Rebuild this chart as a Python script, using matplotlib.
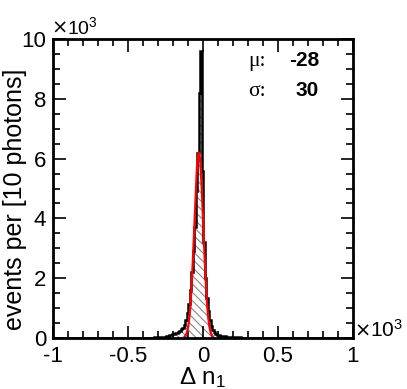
import numpy as np
import matplotlib
matplotlib.use("Agg")
import matplotlib.pyplot as plt
from matplotlib.ticker import MultipleLocator

# ---- data (x in units of 10^3 photons, y in units of 10^3 events) ----
bin_width = 0.01
x_start = -0.45   # left edge of first listed bin
counts = [
    # -0.45 .. -0.36
    0.004, 0.005, 0.005, 0.006, 0.007, 0.008, 0.009, 0.010, 0.011, 0.012,
    # -0.35 .. -0.26
    0.014, 0.016, 0.018, 0.020, 0.023, 0.026, 0.030, 0.034, 0.040, 0.046,
    # -0.25 .. -0.16
    0.070, 0.080, 0.090, 0.105, 0.120, 0.135, 0.155, 0.180, 0.210, 0.250,
    # -0.15 .. -0.06
    0.29, 0.35, 0.45, 0.60, 0.85, 1.15, 1.60, 2.20, 2.90, 3.70,
    # -0.05 .. 0.04
    4.90, 6.20, 8.20, 9.60, 5.60, 3.20, 2.00, 1.35, 0.90, 0.60,
    # 0.05 .. 0.14
    0.40, 0.27, 0.19, 0.14, 0.11, 0.090, 0.078, 0.068, 0.060, 0.053,
    # 0.15 .. 0.24
    0.047, 0.042, 0.037, 0.033, 0.030, 0.027, 0.024, 0.022, 0.020, 0.018,
    # 0.25 .. 0.34
    0.016, 0.014, 0.013, 0.012, 0.011, 0.010, 0.009, 0.008, 0.007, 0.007,
    # 0.35 .. 0.39
    0.006, 0.006, 0.005, 0.005, 0.004,
]
fit_mu = -0.028
fit_sigma = 0.030
fit_amp = 6.2
fit_range = (-0.122, 0.066)
mu_text = "-28"
sigma_text = "30"
x_ticks = [-1, -0.5, 0, 0.5, 1]
x_tick_labels = ["-1", "-0.5", "0", "0.5", "1"]
y_ticks = [0, 2, 4, 6, 8, 10]
y_tick_labels = ["0", "2", "4", "6", "8", "10"]

# ---- figure ----
plt.rcParams['font.family'] = ['Liberation Sans', 'DejaVu Sans']
plt.rcParams['mathtext.fontset'] = 'custom'
plt.rcParams['mathtext.rm'] = 'Liberation Sans'
plt.rcParams['mathtext.it'] = 'Liberation Sans:italic'
plt.rcParams['mathtext.bf'] = 'Liberation Sans:bold'
fig = plt.figure(figsize=(4.07, 3.89), dpi=100)
ax = fig.add_axes([53/407, 1-338/389, 300/407, 299/389])

edges = x_start + bin_width * np.arange(len(counts) + 1)
edges_full = np.concatenate(([-1.0], edges, [1.0]))
counts_full = np.concatenate(([0.0], counts, [0.0]))

plt.rcParams['hatch.linewidth'] = 0.8
ax.stairs(counts_full, edges_full, fill=True, facecolor='none',
          edgecolor='#888888', hatch='\\\\\\\\', linewidth=0)
ax.stairs(counts_full, edges_full, color='black', linewidth=1.8)

xf = np.linspace(fit_range[0], fit_range[1], 300)
yf = fit_amp * np.exp(-0.5 * ((xf - fit_mu) / fit_sigma) ** 2)
ax.plot(xf, yf, color='red', linewidth=1.6)

ax.set_xlim(-1, 1)
ax.set_ylim(0, 10)
ax.set_xticks(x_ticks)
ax.set_xticklabels(x_tick_labels)
ax.set_yticks(y_ticks)
ax.set_yticklabels(y_tick_labels)
ax.xaxis.set_minor_locator(MultipleLocator(0.1))
ax.yaxis.set_minor_locator(MultipleLocator(0.5))
ax.tick_params(which='both', direction='in', top=True, right=True,
               width=1.2, labelsize=16)
ax.tick_params(which='major', length=9)
ax.tick_params(which='minor', length=5)
ax.tick_params(axis='x', pad=6)
ax.tick_params(axis='y', pad=5)
for s in ax.spines.values():
    s.set_linewidth(2)

ax.set_xlabel("\u0394 n$_{1}$", fontsize=17.5, labelpad=0)
ax.set_ylabel("events per [10 photons]", fontsize=18)
ax.yaxis.set_label_coords(-26/300, 0.465)
ax.xaxis.set_label_coords(0.5, -0.092)

# ROOT-style exponent labels
fig.text(51/407, 1-34/389, "\u00d7", fontsize=14, family='DejaVu Sans',
         ha='left', va='baseline')
fig.text(67/407, 1-34/389, "10$^{3}$", fontsize=14, ha='left', va='baseline')
fig.text(354/407, 1-337/389, "\u00d7", fontsize=14, family='DejaVu Sans',
         ha='left', va='baseline')
fig.text(370/407, 1-337/389, "10$^{3}$", fontsize=15, ha='left', va='baseline')

ax.text(248/407, 1-66/389, "\u03bc:", transform=fig.transFigure, fontsize=15.5,
        family=['Liberation Serif', 'DejaVu Serif'], ha='left', va='baseline')
ax.text(319/407, 1-66/389, mu_text, transform=fig.transFigure, fontsize=15,
        fontweight='bold', ha='right', va='baseline')
ax.text(248/407, 1-96/389, "\u03c3:", transform=fig.transFigure, fontsize=15.5,
        family=['Liberation Serif', 'DejaVu Serif'], ha='left', va='baseline')
ax.text(319/407, 1-96/389, sigma_text, transform=fig.transFigure, fontsize=15,
        fontweight='bold', ha='right', va='baseline')

fig.savefig("out.png", dpi=100)
